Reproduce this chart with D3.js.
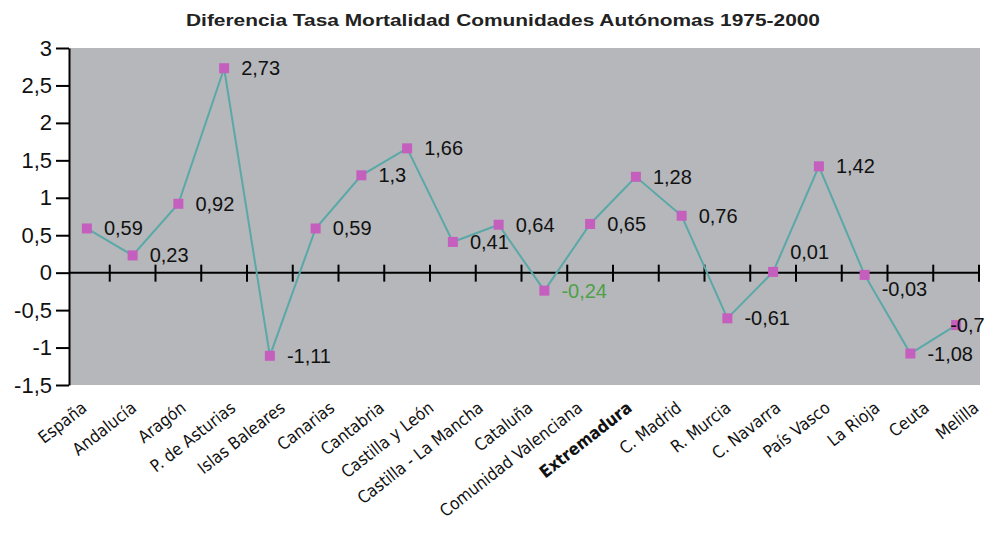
<!DOCTYPE html>
<html>
<head>
<meta charset="utf-8">
<script src="https://cdn.jsdelivr.net/npm/d3@7"></script>
<style>
  body { margin: 0; background: #fff; }
  svg { display: block; }
</style>
</head>
<body>
<div id="chart"></div>
<script>
// Region names on the x axis (19 labels)
const regions = ["España", "Andalucía", "Aragón", "P. de Asturias", "Islas Baleares", "Canarias",
  "Cantabria", "Castilla y León", "Castilla - La Mancha", "Cataluña", "Comunidad Valenciana",
  "Extremadura", "C. Madrid", "R. Murcia", "C. Navarra", "País Vasco", "La Rioja", "Ceuta", "Melilla"]

// plotted values (the original chart has 20 points for 19 labels)
const values = [0.59, 0.23, 0.92, 2.73, -1.11, 0.59, 1.3, 1.66, 0.41, 0.64, -0.24,
  0.65, 1.28, 0.76, -0.61, 0.01, 1.42, -0.03, -1.08, -0.7]

const yTicks = [-1.5, -1, -0.5, 0, 0.5, 1, 1.5, 2, 2.5, 3]

const width = 987, height = 537
const plot = { left: 69, right: 980, top: 48, bottom: 385 }

const svg = d3.select("#chart").append("svg")
    .attr("width", width)
    .attr("height", height)

// title (stretched wide like the original)
svg.append("text")
    .attr("x", 186)
    .attr("y", 26)
    .attr("textLength", 634)
    .attr("lengthAdjust", "spacingAndGlyphs")
    .style("font-family", "Liberation Sans, Arial, sans-serif")
    .style("font-weight", "bold")
    .style("font-size", "16px")
    .style("fill", "#222")
    .text("Diferencia Tasa Mortalidad Comunidades Autónomas 1975-2000")

// grey plot area
svg.append("rect")
    .attr("x", plot.left)
    .attr("y", plot.top)
    .attr("width", plot.right - plot.left)
    .attr("height", plot.bottom - plot.top)
    .style("fill", "#b5b7ba")

const y = d3.scaleLinear()
    .domain([-1.5, 3])
    .range([plot.bottom, plot.top])

// one band per plotted point
const x = d3.scaleBand()
    .domain(d3.range(values.length))
    .range([64, 979])

// label positions (spread wider than the points, as in the original)
const xLabel = d3.scalePoint()
    .domain(regions)
    .range([88, 980])

const fmt = v => String(v).replace(".", ",")

// y axis
const yAxis = svg.append("g")
    .attr("transform", `translate(${plot.left}, 0)`)
    .call(d3.axisLeft(y).tickValues(yTicks).tickFormat(fmt).tickSize(13).tickPadding(4).tickSizeOuter(0))

yAxis.select(".domain").attr("stroke", "#000").attr("stroke-width", 2)
yAxis.selectAll(".tick line").attr("stroke", "#000").attr("stroke-width", 2)
yAxis.selectAll("text")
    .style("font-family", "Liberation Sans, Arial, sans-serif")
    .style("font-size", "22px")
    .style("fill", "#111")

// x axis line at zero with ticks between points
const y0 = y(0)
svg.append("line")
    .attr("x1", plot.left).attr("x2", plot.right)
    .attr("y1", y0).attr("y2", y0)
    .attr("stroke", "#000").attr("stroke-width", 2)

svg.selectAll(".xtick")
    .data(d3.range(1, values.length + 1))
    .enter()
    .append("line")
    .attr("class", "xtick")
    .attr("x1", d => x.step() * d + x.range()[0])
    .attr("x2", d => x.step() * d + x.range()[0])
    .attr("y1", y0 - 8)
    .attr("y2", y0 + 9)
    .attr("stroke", "#000").attr("stroke-width", 2)

// line
const line = d3.line()
    .x((d, i) => x(i) + x.bandwidth() / 2)
    .y(d => y(d))

svg.append("path")
    .datum(values)
    .attr("d", line)
    .attr("fill", "none")
    .attr("stroke", "#5aa8a8")
    .attr("stroke-width", 2)

// markers
svg.selectAll(".marker")
    .data(values)
    .enter()
    .append("rect")
    .attr("class", "marker")
    .attr("x", (d, i) => x(i) + x.bandwidth() / 2 - 5)
    .attr("y", d => y(d) - 5)
    .attr("width", 10)
    .attr("height", 10)
    .style("fill", "#c55fbd")

// value labels; a few are nudged like in the original
const nudge = { 15: [17, -20], 17: [17, 14], 19: [-6, 0] }
svg.selectAll(".vlabel")
    .data(values)
    .enter()
    .append("text")
    .attr("class", "vlabel")
    .attr("x", (d, i) => x(i) + x.bandwidth() / 2 + (nudge[i] ? nudge[i][0] : 17))
    .attr("y", (d, i) => y(d) + (nudge[i] ? nudge[i][1] : 0))
    .attr("dy", "0.35em")
    .style("font-family", "Liberation Sans, Arial, sans-serif")
    .style("font-size", "20px")
    .style("fill", (d, i) => i === 10 ? "#4fa048" : "#111")
    .text(d => fmt(d))

// category labels
svg.selectAll(".clabel")
    .data(regions)
    .enter()
    .append("text")
    .attr("class", "clabel")
    .attr("transform", d => `translate(${xLabel(d)}, 410) rotate(-38)`)
    .attr("text-anchor", "end")
    .style("font-family", "Liberation Sans Narrow, DejaVu Sans Condensed, sans-serif")
    .style("font-size", "17px")
    .style("font-weight", d => d === "Extremadura" ? "bold" : "normal")
    .style("fill", "#111")
    .text(d => d)
</script>
</body>
</html>
